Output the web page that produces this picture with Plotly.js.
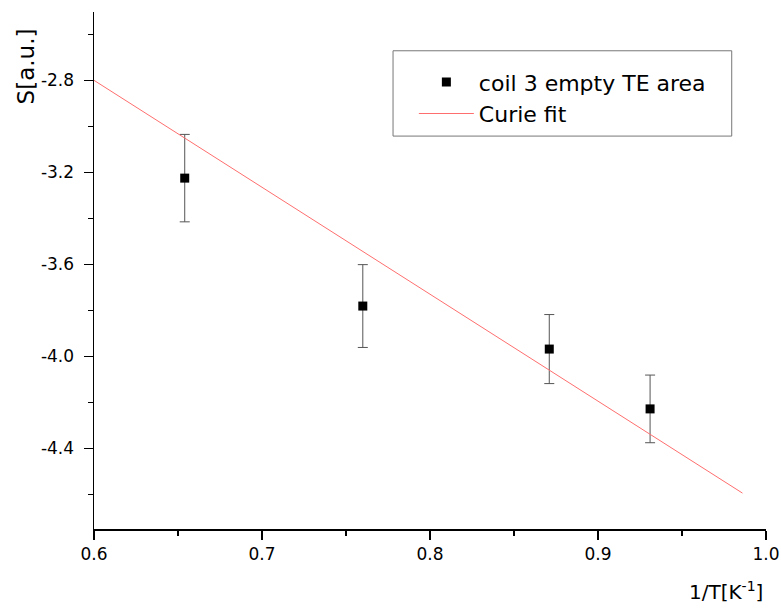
<!DOCTYPE html>
<html><head><meta charset="utf-8">
<script src="https://cdn.plot.ly/plotly-3.0.1.min.js"></script>
<style>body{margin:0;background:#fff}#c{width:781px;height:608px}</style>
</head><body><div id="c"></div>
<script>
// data
const invT = [0.654, 0.760, 0.871, 0.931];
const signal = [-3.225, -3.781, -3.968, -4.228];
const signalErr = [0.19, 0.18, 0.15, 0.147];
const fitX = [0.6, 0.986];
const fitY = [-2.8, -4.594];
const seriesNames = ['coil 3 empty TE area', 'Curie fit'];
const xTickVals = [0.6, 0.7, 0.8, 0.9, 1.0];
const xTickText = ['0.6', '0.7', '0.8', '0.9', '1.0'];
const yTickVals = [-4.4, -4.0, -3.6, -3.2, -2.8];
const yTickText = ['-4.4', '-4.0', '-3.6', '-3.2', '-2.8'];
const xTitle = '1/T[K<sup>-1</sup>]';
const yTitle = 'S[a.u.]';

const font = 'DejaVu Sans, Arial, sans-serif';
const traces = [
  {x: invT, y: signal, type: 'scatter', mode: 'markers', name: seriesNames[0],
   marker: {symbol: 'square', size: 9, color: '#000'},
   error_y: {type: 'data', array: signalErr, visible: true, color: '#555', thickness: 1, width: 5}},
  {x: fitX, y: fitY, type: 'scatter', mode: 'lines', name: seriesNames[1],
   line: {color: 'rgb(255,110,110)', width: 1}}
];
const layout = {
  width: 781, height: 608,
  margin: {l: 93.5, r: 15, t: 12, b: 79},
  paper_bgcolor: '#fff', plot_bgcolor: '#fff',
  font: {family: font, color: '#000', size: 17},
  showlegend: true,
  legend: {x: 0.476, y: 0.905, xanchor: 'left', yanchor: 'top', bgcolor: 'rgba(0,0,0,0)',
           font: {size: 22, family: font}, itemwidth: 55, tracegroupgap: 0},
  xaxis: {range: [0.6, 1.0], tickmode: 'array', tickvals: xTickVals, ticktext: xTickText,
          ticks: 'outside', ticklen: 9, tickwidth: 1.5,
          tickcolor: '#000', showline: true, linecolor: '#000', linewidth: 1.5, showgrid: false,
          zeroline: false, tickfont: {size: 17},
          minor: {dtick: 0.05, ticks: 'outside', ticklen: 5, tickcolor: '#000', tickwidth: 1.5, showgrid: false}},
  yaxis: {range: [-4.75, -2.503], tickmode: 'array', tickvals: yTickVals, ticktext: yTickText,
          ticks: 'outside', ticklen: 9, tickwidth: 1.5, ticklabelstandoff: 6,
          tickcolor: '#000', showline: true, linecolor: '#000', linewidth: 1.5, showgrid: false,
          zeroline: false, tickfont: {size: 17},
          minor: {dtick: 0.2, tick0: -2.8, ticks: 'outside', ticklen: 5, tickcolor: '#000', tickwidth: 1.5, showgrid: false}},
  shapes: [{type: 'rect', xref: 'paper', yref: 'paper', x0: 0.445, x1: 0.949, y0: 0.76, y1: 0.925,
            line: {color: '#777', width: 1}}],
  annotations: [
    {text: yTitle, xref: 'paper', yref: 'paper', x: -0.101, y: 0.895, textangle: -90,
     showarrow: false, xanchor: 'center', yanchor: 'middle', font: {size: 23}},
    {text: xTitle, xref: 'paper', yref: 'paper', x: 0.999, y: -0.12, showarrow: false,
     xanchor: 'right', yanchor: 'middle', font: {size: 20}}
  ]
};
Plotly.newPlot('c', traces, layout, {displayModeBar: false, staticPlot: true});
</script></body></html>
